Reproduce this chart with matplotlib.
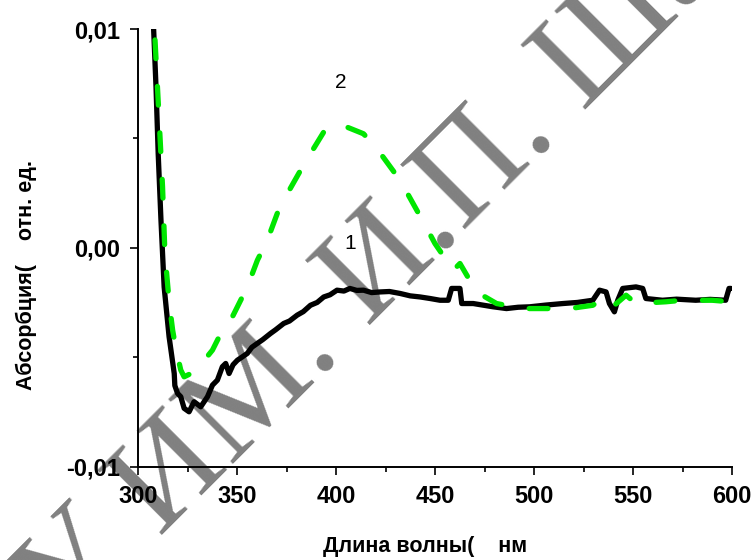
import matplotlib
matplotlib.use("Agg")
import matplotlib.pyplot as plt
from matplotlib.ticker import FixedLocator, FuncFormatter
from matplotlib import font_manager

plt.rcParams['font.family'] = ['Liberation Sans', 'DejaVu Sans']
plt.rcParams['lines.scale_dashes'] = False

# ---- data ----
wl_1 = [307.8, 309.1, 310.2, 311.6, 313.2, 315.7, 318.3, 318.6, 320.0, 321.6, 323.3, 325.8,
        328.3, 331.7, 335.1, 337.6, 340.1, 342.6, 344.3, 346.0, 348.0, 350.2, 352.5,
        355.2, 357.5, 360.3, 363.0, 366.9, 369.5, 373.6, 376.5, 380.4, 383.5, 387.1,
        390.5, 393.8, 397.0, 400.5, 404.0, 407.0, 410.5, 413.9, 418.0, 422.3, 427.0,
        432.4, 437.5, 442.5, 447.5, 452.5, 456.7, 458.4, 462.6, 463.5, 469.3, 474.0,
        479.4, 486.1, 492.0, 497.8, 506.0, 514.6, 522.0, 529.7, 533.1, 536.4, 538.1,
        540.6, 542.3, 544.8, 551.5, 554.9, 556.5, 564.9, 572.0, 581.7, 589.0, 596.8,
        598.5, 599.5]
abs_1 = [10.2, 7.34, 4.3, 1.26, -1.79, -4.07, -5.75, -6.3, -6.66, -6.81, -7.34, -7.5,
         -7.04, -7.27, -6.81, -6.28, -6.05, -5.44, -5.29, -5.75, -5.35, -5.14, -5.0,
         -4.83, -4.55, -4.37, -4.2, -3.92, -3.75, -3.46, -3.35, -3.08, -2.92, -2.63,
         -2.5, -2.25, -2.15, -1.94, -1.98, -1.86, -1.95, -1.94, -2.05, -2.02, -2.0,
         -2.09, -2.2, -2.25, -2.32, -2.40, -2.40, -1.86, -1.86, -2.55, -2.55, -2.62,
         -2.70, -2.78, -2.72, -2.70, -2.62, -2.55, -2.5, -2.40, -1.94, -2.02, -2.55,
         -2.93, -2.40, -1.86, -1.79, -1.86, -2.32, -2.40, -2.35, -2.40, -2.36, -2.40,
         -1.86, -1.86]

wl_2 = [308.6, 310.7, 312.4, 313.6, 315.8, 317.5, 319.1, 321.6, 323.3, 326.7, 330.0,
        334.2, 337.6, 341.8, 346.0, 350.2, 355.2, 360.3, 365.3, 370.3, 375.4, 382.1,
        387.1, 393.8, 401.3, 413.9, 420.7, 429.9, 436.6, 444.1, 450.0, 459.2, 462.6,
        471.0, 481.1, 494.5, 504.5, 518.0, 529.7, 534.7, 539.7, 546.5, 551.5, 566.6,
        575.0, 590.0, 599.3]
abs_2 = [9.5, 5.82, 2.78, -0.26, -2.55, -3.77, -4.6, -5.59, -5.9, -5.75, -5.44,
         -5.06, -4.68, -3.92, -3.46, -2.7, -1.79, -0.57, 0.34, 1.56, 2.47, 3.54,
         4.3, 5.29, 5.67, 5.21, 4.53, 3.39, 2.4, 1.18, 0.19, -1.03, -0.72,
         -2.02, -2.55, -2.78, -2.78, -2.78, -2.63, -2.32, -2.7, -2.17, -2.55, -2.47,
         -2.40, -2.40, -2.47]

x_ticks = [300, 350, 400, 450, 500, 550, 600]
x_minor = [325, 375, 425, 475, 525, 575]
y_ticks = [-0.01, 0.0, 0.01]
y_minor = [-0.005, 0.005]

curve_labels = ["1", "2"]
curve_label_pos = [(407, 0.0002), (402.5, 0.00757)]

scale = 1e-3
y1 = [v * scale for v in abs_1]
y2 = [v * scale for v in abs_2]

W, H = 754, 560
fig = plt.figure(figsize=(W / 100, H / 100), dpi=100)
ax = fig.add_axes([138 / W, (H - 466.5) / H, 594 / W, 437.5 / H])
ax.set_facecolor('none')

# watermark (behind the plot), serif face
try:
    serif_path = font_manager.findfont(font_manager.FontProperties(family='Liberation Serif'),
                                       fallback_to_default=False)
    wm_font = font_manager.FontProperties(fname=serif_path, size=100)
except Exception:
    wm_font = font_manager.FontProperties(family='DejaVu Serif', size=100)
wm_kw = dict(fontproperties=wm_font, color='#808080',
             rotation=45, rotation_mode='anchor', va='baseline', zorder=-5)
fig.text(368 / W, 1 - 328 / H, "И.П. Шамякина", ha='left', **wm_kw)
fig.text(343 / W, 1 - 355 / H, "МГПУ ИМ.", ha='right', **wm_kw)

ax.plot(wl_1, y1, color='black', lw=3.8, solid_joinstyle='round',
        solid_capstyle='round', zorder=3)
ax.plot(wl_2, y2, color='#00e600', lw=3.8, linestyle=(0, (13.5, 20)),
        dash_capstyle='round', dash_joinstyle='round', zorder=4)

for lab, (lx, ly) in zip(curve_labels, curve_label_pos):
    ax.text(lx, ly, lab, fontsize=15, ha='center', va='center', color='black', zorder=5)

ax.set_xlim(300, 600)
ax.set_ylim(-0.01, 0.01)
ax.xaxis.set_major_locator(FixedLocator(x_ticks))
ax.xaxis.set_minor_locator(FixedLocator(x_minor))
ax.yaxis.set_major_locator(FixedLocator(y_ticks))
ax.yaxis.set_minor_locator(FixedLocator(y_minor))
ax.yaxis.set_major_formatter(FuncFormatter(lambda v, p: f"{v:.2f}".replace('.', ',')))

for s in ['top', 'right']:
    ax.spines[s].set_visible(False)
for s in ['left', 'bottom']:
    ax.spines[s].set_linewidth(1.4)

ax.tick_params(which='major', direction='out', length=6, width=1.2, pad=7,
               labelsize=17)
ax.tick_params(which='minor', direction='out', length=3.5, width=1.2)
for lbl in ax.get_xticklabels() + ax.get_yticklabels():
    lbl.set_fontweight('bold')

fig.text(323 / W, 1 - 552 / H, "Длина волны(    нм", ha='left', va='baseline',
         fontsize=15.5, fontweight='bold')
fig.text(26 / W, 1 - 390 / H, "Абсорбция(    отн. ед.", rotation=90, ha='center',
         va='bottom', fontsize=15.5, fontweight='bold')

fig.savefig("out.png", dpi=100, facecolor='white')
